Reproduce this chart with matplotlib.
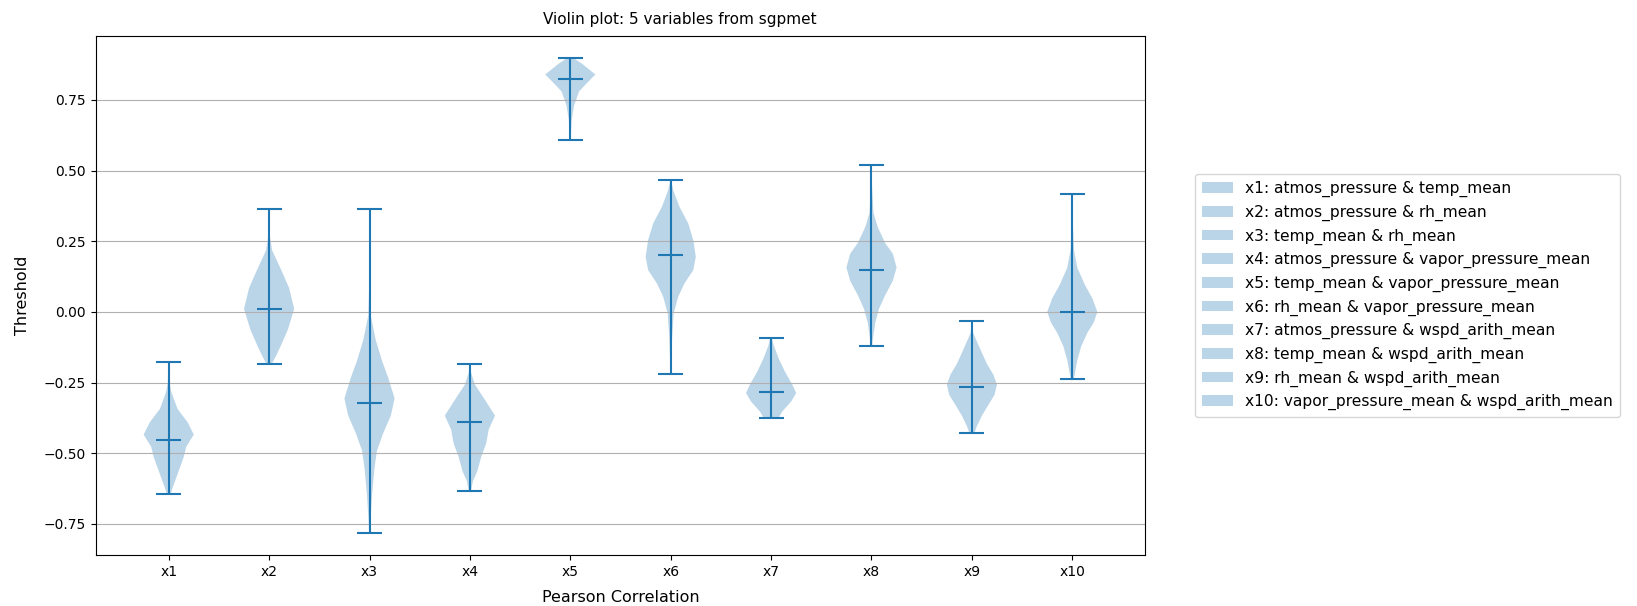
import matplotlib
matplotlib.use('Agg')
import matplotlib.pyplot as plt
import numpy as np

# pair labels for the legend
labels = ['x1: atmos_pressure & temp_mean',
          'x2: atmos_pressure & rh_mean',
          'x3: temp_mean & rh_mean',
          'x4: atmos_pressure & vapor_pressure_mean',
          'x5: temp_mean & vapor_pressure_mean',
          'x6: rh_mean & vapor_pressure_mean',
          'x7: atmos_pressure & wspd_arith_mean',
          'x8: temp_mean & wspd_arith_mean',
          'x9: rh_mean & wspd_arith_mean',
          'x10: vapor_pressure_mean & wspd_arith_mean']
ticklabels = ['x1', 'x2', 'x3', 'x4', 'x5', 'x6', 'x7', 'x8', 'x9', 'x10']

# min / median / max
mins = [-0.645, -0.185, -0.781, -0.632, 0.609, -0.218, -0.374, -0.119, -0.429, -0.238]
medians = [-0.454, 0.010, -0.321, -0.389, 0.824, 0.201, -0.282, 0.149, -0.266, 0.001]
maxs = [-0.178, 0.364, 0.364, -0.183, 0.897, 0.466, -0.091, 0.520, -0.032, 0.416]

# density profiles (relative width), top to bottom
coords1 = [-0.178, -0.25, -0.282, -0.343, -0.39, -0.434, -0.477, -0.513, -0.55, -0.587, -0.623, -0.645]
dens1 = [0.01, 0.04, 0.1, 0.35, 0.75, 1.0, 0.7, 0.6, 0.45, 0.3, 0.15, 0.08]
coords2 = [0.364, 0.27, 0.218, 0.145, 0.084, 0.011, -0.062, -0.123, -0.16, -0.185]
dens2 = [0.01, 0.03, 0.12, 0.5, 0.8, 1.0, 0.75, 0.45, 0.25, 0.1]
coords3 = [0.364, 0.1, -0.013, -0.1, -0.173, -0.234, -0.306, -0.367, -0.428, -0.49, -0.551, -0.649, -0.735, -0.781]
dens3 = [0.005, 0.01, 0.05, 0.25, 0.5, 0.75, 1.0, 0.85, 0.55, 0.3, 0.2, 0.1, 0.04, 0.02]
coords4 = [-0.183, -0.216, -0.257, -0.318, -0.367, -0.416, -0.465, -0.513, -0.562, -0.599, -0.632]
dens4 = [0.01, 0.05, 0.2, 0.65, 1.0, 0.75, 0.65, 0.45, 0.3, 0.12, 0.05]
coords5 = [0.897, 0.876, 0.84, 0.804, 0.78, 0.73, 0.68, 0.609]
dens5 = [0.15, 0.5, 1.0, 0.6, 0.35, 0.15, 0.06, 0.01]
coords6 = [0.466, 0.431, 0.372, 0.313, 0.254, 0.195, 0.148, 0.101, 0.054, -0.005, -0.087, -0.158, -0.218]
dens6 = [0.02, 0.1, 0.35, 0.7, 0.9, 1.0, 0.9, 0.55, 0.3, 0.12, 0.06, 0.03, 0.01]
coords7 = [-0.091, -0.117, -0.164, -0.211, -0.258, -0.287, -0.317, -0.352, -0.374]
dens7 = [0.03, 0.1, 0.3, 0.55, 0.85, 1.0, 0.8, 0.45, 0.3]
coords8 = [0.520, 0.45, 0.35, 0.3, 0.243, 0.206, 0.157, 0.11, 0.06, 0.011, -0.038, -0.1, -0.119]
dens8 = [0.005, 0.02, 0.08, 0.25, 0.55, 0.85, 1.0, 0.85, 0.55, 0.3, 0.15, 0.05, 0.03]
coords9 = [-0.032, -0.074, -0.135, -0.184, -0.221, -0.257, -0.294, -0.33, -0.367, -0.404, -0.429]
dens9 = [0.01, 0.05, 0.35, 0.6, 0.85, 1.0, 0.9, 0.65, 0.4, 0.2, 0.1]
coords10 = [0.416, 0.3, 0.218, 0.157, 0.096, 0.048, 0.0, -0.038, -0.074, -0.123, -0.171, -0.22, -0.238]
dens10 = [0.01, 0.03, 0.07, 0.2, 0.5, 0.8, 1.0, 0.85, 0.6, 0.35, 0.2, 0.1, 0.06]

all_coords = [coords1, coords2, coords3, coords4, coords5, coords6, coords7, coords8, coords9, coords10]
all_dens = [dens1, dens2, dens3, dens4, dens5, dens6, dens7, dens8, dens9, dens10]

vpstats = []
for i in range(len(labels)):
	vpstats.append({'coords': np.array(all_coords[i]), 'vals': np.array(all_dens[i]),
	                'mean': medians[i], 'median': medians[i], 'min': mins[i], 'max': maxs[i]})

positions = np.arange(1, len(labels) + 1)

fig = plt.figure(figsize=(16.37, 6.06), dpi=100)
ax = fig.add_axes([0.0586, 0.0842, 0.6409, 0.8558])
parts = ax.violin(vpstats, positions=positions, showmedians=True)

ax.yaxis.grid(True)
ax.set_ylim(-0.86, 0.975)
ax.set_xticks(positions)
ax.set_xticklabels(ticklabels)
ax.set_xlabel('Pearson Correlation', fontsize=11.5, labelpad=8)
ax.set_ylabel('Threshold', fontsize=11.5, labelpad=10)
fig.suptitle('Violin plot: 5 variables from sgpmet', x=0.415, y=0.98, fontsize=11)
ax.legend(parts['bodies'], labels, loc='center left', bbox_to_anchor=(1.04, 0.5),
          fontsize=11.2, borderpad=0.45, labelspacing=0.48)

fig.savefig('out.png', dpi=100)
